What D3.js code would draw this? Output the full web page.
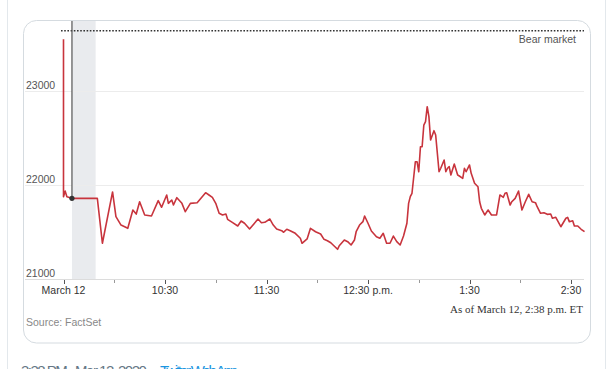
<!DOCTYPE html>
<html lang="en">
  <head>
    <meta charset="UTF-8" />
    <title>Dow intraday, March 12</title>
    <style>
      body { margin: 0; background: #fff; overflow: hidden; }
      text { font-family: "Liberation Sans", Arial, sans-serif; }
      .serif { font-family: "Liberation Serif", "Times New Roman", serif; }
    </style>
  </head>
  <body>
    <div id="chart"></div>

    <script src="https://d3js.org/d3.v7.min.js"></script>
    <script>
      // data: minutes after the 9:30 open, index level
      var minutes = [0, 0, 1, 2, 5, 20, 23, 29, 31, 34, 38, 41, 43, 45, 48, 52, 56, 58, 61, 62,
        64, 65, 67, 70, 72, 75, 79, 82, 84, 86, 88, 90, 92, 94, 96, 97, 100, 103, 105, 107,
        110, 115, 117, 119, 122, 124, 126, 129, 130, 132, 134, 137, 140, 141, 144, 146, 149, 152, 154, 156,
        158, 162, 163, 166, 168, 170, 172, 173, 175, 177, 178, 180, 182, 185, 187, 189, 191, 193, 195, 197,
        199, 201, 203, 204, 205, 206, 208, 209, 210, 211, 212, 213, 214, 215, 216, 217, 219, 220, 222, 223,
        225, 226, 227, 228, 229, 231, 233, 234, 236, 237, 238, 240, 241, 243, 245, 246, 247, 249, 251, 253,
        256, 258, 260, 261, 262, 264, 265, 267, 269, 271, 273, 275, 277, 279, 280, 282, 284, 286, 288, 289,
        291, 294, 297, 298, 299, 301, 302, 304, 306, 308];
      var values = [23550, 21875, 21935, 21875, 21858, 21858, 21380, 21926, 21663, 21574, 21539, 21734, 21691, 21822, 21681, 21670, 21833, 21763, 21894, 21805,
        21840, 21787, 21865, 21805, 21716, 21805, 21812, 21876, 21918, 21894, 21869, 21805, 21699, 21681, 21691, 21635, 21599, 21564, 21617, 21593,
        21532, 21638, 21599, 21603, 21638, 21574, 21532, 21514, 21497, 21529, 21514, 21486, 21433, 21380, 21426, 21539, 21503, 21479, 21422, 21407,
        21386, 21316, 21354, 21415, 21397, 21362, 21415, 21503, 21574, 21610, 21670, 21593, 21511, 21450, 21433, 21486, 21380, 21380, 21457, 21397,
        21362, 21457, 21593, 21805, 21876, 21912, 22248, 22248, 22141, 22407, 22407, 22638, 22673, 22833, 22727, 22479, 22578, 22532, 22141, 22178,
        22266, 22141, 22178, 22195, 22106, 22223, 22106, 22096, 22071, 22178, 22141, 22213, 22124, 22018, 21982, 21822, 21752, 21681, 21734, 21681,
        21681, 21894, 21869, 21912, 21918, 21787, 21822, 21858, 21936, 21734, 21822, 21901, 21822, 21812, 21769, 21699, 21705, 21688, 21691, 21646,
        21656, 21556, 21646, 21656, 21610, 21620, 21564, 21564, 21529, 21503];

      var yTicks = [21000, 22000, 23000];
      var bearMarket = 23641;
      var haltStart = 5, haltEnd = 19;   // trading halt, minutes after open

      var openTime = new Date(2020, 2, 12, 9, 30);
      function toTime(m) { return new Date(openTime.getTime() + m * 60000); }

      var data = minutes.map(function(m, i) { return {time: toTime(m), value: values[i]}; });

      var W = 609, H = 369;
      var svg = d3.select("#chart").append("svg")
          .attr("width", W)
          .attr("height", H);

      // page edges and the card
      svg.append("line").attr("x1", 7.5).attr("x2", 7.5).attr("y1", 0).attr("y2", H)
          .attr("stroke", "#e3e8ec");
      svg.append("line").attr("x1", 605.5).attr("x2", 605.5).attr("y1", 0).attr("y2", H)
          .attr("stroke", "#e3e8ec");
      svg.append("rect")
          .attr("x", 23.5).attr("y", 20.5)
          .attr("width", 567).attr("height", 322.5)
          .attr("rx", 13)
          .attr("fill", "#fff")
          .attr("stroke", "#d5dbe0");

      // scales
      var x = d3.scaleTime()
          .domain([toTime(0), toTime(300)])
          .range([63.5, 571]);
      var y = d3.scaleLinear()
          .domain([21000, 23000])
          .range([279, 91]);

      var plotLeft = 25, plotRight = 584, plotTop = 21;

      // halt band
      svg.append("rect")
          .attr("x", x(toTime(haltStart)))
          .attr("y", plotTop)
          .attr("width", x(toTime(haltEnd)) - x(toTime(haltStart)))
          .attr("height", y(21000) - plotTop)
          .attr("fill", "#e9ebee");

      // gridlines + y labels
      svg.selectAll(".grid")
        .data(yTicks)
        .enter().append("line")
          .attr("x1", plotLeft).attr("x2", plotRight)
          .attr("y1", function(d) { return y(d) + 0.5; })
          .attr("y2", function(d) { return y(d) + 0.5; })
          .attr("stroke", function(d) { return d === 21000 ? "#dcdcdc" : "#ececec"; });
      svg.selectAll(".ylab")
        .data(yTicks)
        .enter().append("text")
          .attr("x", 26)
          .attr("y", function(d) { return y(d) - 2.5; })
          .attr("font-size", "10.5px")
          .attr("fill", "#555")
          .text(function(d) { return d; });

      // bear market line
      svg.append("line")
          .attr("x1", 61).attr("x2", plotRight)
          .attr("y1", y(bearMarket)).attr("y2", y(bearMarket))
          .attr("stroke", "#333")
          .attr("stroke-width", 1.6)
          .attr("stroke-dasharray", "1.6,1.6");
      svg.append("text")
          .attr("x", 576).attr("y", 43)
          .attr("text-anchor", "end")
          .attr("font-size", "10.5px")
          .attr("fill", "#555")
          .text("Bear market");

      // x axis ticks: labels on the half hour, small marks on the hour
      var ticks = d3.timeMinute.every(30).range(toTime(0), toTime(301));
      svg.selectAll(".xtick")
        .data(ticks)
        .enter().append("line")
          .attr("x1", function(d) { return Math.round(x(d)) + 0.5; })
          .attr("x2", function(d) { return Math.round(x(d)) + 0.5; })
          .attr("y1", 280)
          .attr("y2", function(d) { return d.getMinutes() === 30 ? 284 : 283; })
          .attr("stroke", function(d) { return d.getMinutes() === 30 ? "#555" : "#999"; });

      function fmt(d) {
        if (d.getTime() === openTime.getTime()) return "March 12";
        var h = d.getHours() % 12 || 12;
        var s = h + ":" + d3.format("02")(d.getMinutes());
        if (d.getHours() === 12) s += " p.m.";
        return s;
      }
      svg.selectAll(".xlab")
        .data(ticks.filter(function(d) { return d.getMinutes() === 30; }))
        .enter().append("text")
          .attr("x", function(d) { return x(d); })
          .attr("y", 294)
          .attr("text-anchor", "middle")
          .attr("font-size", "10.5px")
          .attr("fill", "#333")
          .text(fmt);

      // halt marker
      svg.append("line")
          .attr("x1", x(toTime(haltStart))).attr("x2", x(toTime(haltStart)))
          .attr("y1", plotTop).attr("y2", y(values[4]))
          .attr("stroke", "#555")
          .attr("stroke-width", 1.2);

      // the index line
      var line = d3.line()
          .x(function(d) { return x(d.time); })
          .y(function(d) { return y(d.value); });
      svg.append("path")
          .datum(data)
          .attr("d", line)
          .attr("fill", "none")
          .attr("stroke", "#c8343d")
          .attr("stroke-width", 1.6)
          .attr("stroke-linejoin", "round");

      svg.append("circle")
          .attr("cx", x(toTime(haltStart)))
          .attr("cy", y(values[4]))
          .attr("r", 2.6)
          .attr("fill", "#333");

      // footer notes
      svg.append("text")
          .attr("class", "serif")
          .attr("x", 583).attr("y", 313)
          .attr("text-anchor", "end")
          .attr("font-size", "11px")
          .attr("fill", "#333")
          .text("As of March 12, 2:38 p.m. ET");
      svg.append("text")
          .attr("x", 26).attr("y", 326)
          .attr("font-size", "10.5px")
          .attr("fill", "#888")
          .text("Source: FactSet");

      // tweet footer, cut off by the window edge
      svg.append("text")
          .attr("x", 21).attr("y", 376)
          .attr("font-size", "15px")
          .attr("fill", "#657786")
          .attr("textLength", 132)
          .text("3:38 PM · Mar 12, 2020 ·");
      svg.append("text")
          .attr("x", 160).attr("y", 376)
          .attr("font-size", "15px")
          .attr("fill", "#1b95e0")
          .attr("textLength", 78)
          .text("Twitter Web App");
    </script>
  </body>
</html>
